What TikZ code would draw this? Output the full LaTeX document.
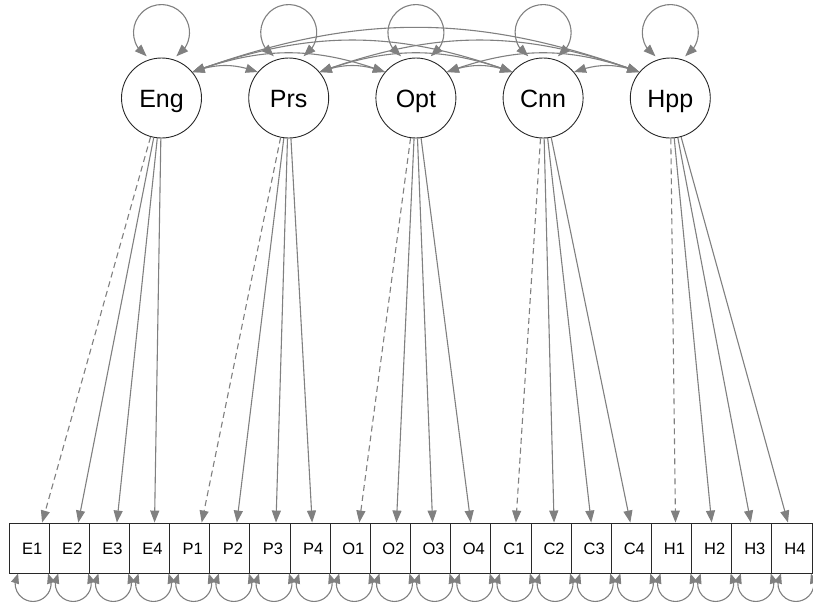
\documentclass[tikz,border=0pt]{standalone}
\usepackage{fontspec}
\setmainfont{Liberation Sans}
\usetikzlibrary{arrows.meta,bending}
\definecolor{edgegray}{RGB}{128,128,128}
\definecolor{framegray}{RGB}{40,40,40}
\begin{document}
\begin{tikzpicture}[x=1pt,y=1pt,
  latent/.style={circle,draw=framegray,line width=0.9pt,minimum size=80pt,inner sep=0pt,
    font=\fontsize{25}{25}\selectfont,text height=18pt,text depth=0pt},
  manifest/.style={rectangle,draw=framegray,line width=0.9pt,minimum width=40.15pt,
    minimum height=50pt,inner sep=0pt,font=\fontsize{16.5}{16.5}\selectfont,
    text height=12pt,text depth=0pt},
  tip/.tip={Triangle[length=12pt,width=9pt]},
  smalltip/.tip={Triangle[length=10pt,width=8pt]},
  load/.style={draw=edgegray,line width=1.1pt,-tip},
  firstload/.style={load,dash pattern=on 6pt off 4pt},
  cov/.style={draw=edgegray,line width=1.1pt,tip-tip},
  resid/.style={draw=edgegray,line width=1.1pt,smalltip-smalltip},
]
\useasboundingbox (0,0) rectangle (813,-603);

% latent variables
\foreach \n/\t [count=\i from 0] in {eng/Eng,prs/Prs,opt/Opt,cnn/Cnn,hpp/Hpp}
  \node[latent] (\n) at ({161.5+127.2*\i},-98) {\t};

% indicators
\foreach \n/\t [count=\i from 0] in {e1/E1,e2/E2,e3/E3,e4/E4,p1/P1,p2/P2,p3/P3,p4/P4,
    o1/O1,o2/O2,o3/O3,o4/O4,c1/C1,c2/C2,c3/C3,c4/C4,h1/H1,h2/H2,h3/H3,h4/H4}
  \node[manifest] (\n) at ({29.1+40.15*\i},-548) {\kern6pt\t};

% factor loadings
\foreach \l/\m/\d/\s in {eng/e1/13/firstload,eng/e2/9/load,eng/e3/7.5/load,eng/e4/5/load,
    prs/p1/12/firstload,prs/p2/7/load,prs/p3/6/load,prs/p4/2/load,
    opt/o1/9/firstload,opt/o2/6/load,opt/o3/2/load,opt/o4/0/load,
    cnn/c1/5/firstload,cnn/c2/3/load,cnn/c3/0/load,cnn/c4/-1/load,
    hpp/h1/4/firstload,hpp/h2/0/load,hpp/h3/-1/load,hpp/h4/-4/load}
  \draw[\s] (\l) -- ([xshift=\d pt]\m.north);

% latent variances: circular loops resting on top of each factor
\foreach \n in {eng,prs,opt,cnn,hpp}
  \draw[cov] ([shift={(-58:28)},yshift=25pt]\n.north) arc[start angle=-58,end angle=238,radius=28];

% latent covariances
\foreach \a/\b in {eng/prs,eng/opt,eng/cnn,eng/hpp,prs/opt,prs/cnn,prs/hpp,
    opt/cnn,opt/hpp,cnn/hpp}
  \draw[cov] (\a.40) to[out=20,in=160] (\b.140);

% residual variances: circular loops under each indicator
\foreach \m in {e1,e2,e3,e4,p1,p2,p3,p4,o1,o2,o3,o4,c1,c2,c3,c4,h1,h2,h3,h4}
  \draw[resid] ([xshift=-11pt]\m.south) arc[start angle=146.3,end angle=393.7,radius=18];
\end{tikzpicture}
\end{document}
